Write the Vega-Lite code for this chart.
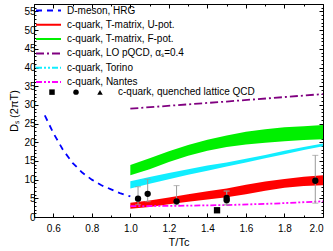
{
  "$schema": "https://vega.github.io/schema/vega-lite/v6.json",
  "width": 289,
  "height": 213,
  "autosize": "none",
  "padding": {"left": 34, "top": 4, "right": 10, "bottom": 34},
  "config": {
    "font": "Liberation Sans",
    "view": {"stroke": "black", "strokeWidth": 1},
    "axis": {"domain": false, "grid": false, "tickColor": "black", "labelColor": "black", "labelFontSize": 10, "titleFontSize": 11, "titleFontWeight": "normal", "titleColor": "black"}
  },
  "datasets": {
    "bands": [
      {"series": "c-quark, T-matrix, F-pot.", "T": 1.0, "lo": 11.2, "hi": 13.9},
      {"series": "c-quark, T-matrix, F-pot.", "T": 1.1, "lo": 12.8, "hi": 15.7},
      {"series": "c-quark, T-matrix, F-pot.", "T": 1.2, "lo": 14.7, "hi": 17.6},
      {"series": "c-quark, T-matrix, F-pot.", "T": 1.3, "lo": 16.4, "hi": 19.3},
      {"series": "c-quark, T-matrix, F-pot.", "T": 1.4, "lo": 17.7, "hi": 20.7},
      {"series": "c-quark, T-matrix, F-pot.", "T": 1.5, "lo": 18.7, "hi": 21.8},
      {"series": "c-quark, T-matrix, F-pot.", "T": 1.6, "lo": 19.4, "hi": 22.8},
      {"series": "c-quark, T-matrix, F-pot.", "T": 1.7, "lo": 19.9, "hi": 23.5},
      {"series": "c-quark, T-matrix, F-pot.", "T": 1.8, "lo": 20.3, "hi": 24.0},
      {"series": "c-quark, T-matrix, F-pot.", "T": 1.9, "lo": 20.6, "hi": 24.3},
      {"series": "c-quark, T-matrix, F-pot.", "T": 2.0, "lo": 20.8, "hi": 24.6},
      {"series": "c-quark, Torino", "T": 1.0, "lo": 7.6, "hi": 9.6},
      {"series": "c-quark, Torino", "T": 1.1, "lo": 8.9, "hi": 10.7},
      {"series": "c-quark, Torino", "T": 1.2, "lo": 10.1, "hi": 11.8},
      {"series": "c-quark, Torino", "T": 1.3, "lo": 11.3, "hi": 12.8},
      {"series": "c-quark, Torino", "T": 1.4, "lo": 12.4, "hi": 13.8},
      {"series": "c-quark, Torino", "T": 1.5, "lo": 13.5, "hi": 14.6},
      {"series": "c-quark, Torino", "T": 1.6, "lo": 14.6, "hi": 15.6},
      {"series": "c-quark, Torino", "T": 1.7, "lo": 15.7, "hi": 16.6},
      {"series": "c-quark, Torino", "T": 1.8, "lo": 16.8, "hi": 17.7},
      {"series": "c-quark, Torino", "T": 1.9, "lo": 17.9, "hi": 18.7},
      {"series": "c-quark, Torino", "T": 2.0, "lo": 18.9, "hi": 19.7},
      {"series": "c-quark, T-matrix, U-pot.", "T": 1.0, "lo": 2.2, "hi": 3.8},
      {"series": "c-quark, T-matrix, U-pot.", "T": 1.1, "lo": 2.7, "hi": 4.4},
      {"series": "c-quark, T-matrix, U-pot.", "T": 1.2, "lo": 3.4, "hi": 5.2},
      {"series": "c-quark, T-matrix, U-pot.", "T": 1.3, "lo": 4.1, "hi": 6.1},
      {"series": "c-quark, T-matrix, U-pot.", "T": 1.4, "lo": 4.7, "hi": 6.9},
      {"series": "c-quark, T-matrix, U-pot.", "T": 1.5, "lo": 5.3, "hi": 7.6},
      {"series": "c-quark, T-matrix, U-pot.", "T": 1.6, "lo": 6.1, "hi": 8.6},
      {"series": "c-quark, T-matrix, U-pot.", "T": 1.7, "lo": 7.0, "hi": 9.5},
      {"series": "c-quark, T-matrix, U-pot.", "T": 1.8, "lo": 7.8, "hi": 10.2},
      {"series": "c-quark, T-matrix, U-pot.", "T": 1.9, "lo": 8.3, "hi": 10.8},
      {"series": "c-quark, T-matrix, U-pot.", "T": 2.0, "lo": 8.5, "hi": 11.2}
    ],
    "lines": [
      {"series": "D-meson, HRG", "T": 0.556, "D": 27.2},
      {"series": "D-meson, HRG", "T": 0.6, "D": 22.5},
      {"series": "D-meson, HRG", "T": 0.65, "D": 18.0},
      {"series": "D-meson, HRG", "T": 0.7, "D": 14.5},
      {"series": "D-meson, HRG", "T": 0.75, "D": 11.9},
      {"series": "D-meson, HRG", "T": 0.8, "D": 10.0},
      {"series": "D-meson, HRG", "T": 0.85, "D": 8.5},
      {"series": "D-meson, HRG", "T": 0.9, "D": 7.4},
      {"series": "D-meson, HRG", "T": 0.95, "D": 6.3},
      {"series": "D-meson, HRG", "T": 1.0, "D": 5.5},
      {"series": "c-quark, LO pQCD, αₛ=0.4", "T": 1.0, "D": 29.0},
      {"series": "c-quark, LO pQCD, αₛ=0.4", "T": 1.5, "D": 30.9},
      {"series": "c-quark, LO pQCD, αₛ=0.4", "T": 2.0, "D": 32.9},
      {"series": "c-quark, Nantes", "T": 1.0, "D": 2.9},
      {"series": "c-quark, Nantes", "T": 1.25, "D": 3.0},
      {"series": "c-quark, Nantes", "T": 1.5, "D": 3.2},
      {"series": "c-quark, Nantes", "T": 1.75, "D": 3.6},
      {"series": "c-quark, Nantes", "T": 2.0, "D": 4.2}
    ],
    "lattice": [
      {"T": 1.04, "D": 4.9, "lo": 3.3, "hi": 8.1, "marker": "circle"},
      {"T": 1.09, "D": 6.2, "lo": 4.1, "hi": 10.1, "marker": "circle"},
      {"T": 1.24, "D": 4.2, "lo": 3.3, "hi": 8.4, "marker": "circle"},
      {"T": 1.45, "D": 1.8, "lo": 1.4, "hi": 2.3, "marker": "square"},
      {"T": 1.5, "D": 4.5, "lo": 3.2, "hi": 6.9, "marker": "circle"},
      {"T": 1.5, "D": 5.1, "lo": 3.4, "hi": 7.0, "marker": "circle"},
      {"T": 1.96, "D": 9.7, "lo": 3.7, "hi": 16.5, "marker": "circle"}
    ]
  },
  "resolve": {"axis": {"x": "independent", "y": "independent"}},
  "layer": [
    {
      "data": {"name": "bands"},
      "mark": {"type": "area", "opacity": 1},
      "encoding": {
        "x": {"field": "T", "type": "quantitative", "scale": {"domain": [0.5, 2.0], "nice": false, "zero": false},
          "axis": {"orient": "bottom", "title": "T/Tc", "values": [0.5,0.6,0.7,0.8,0.9,1.0,1.1,1.2,1.3,1.4,1.5,1.6,1.7,1.8,1.9,2.0], "format": ".1f",
            "tickSize": {"condition": {"test": "round(datum.value*10) % 2 == 0", "value": -4}, "value": -2},
            "labelExpr": "round(datum.value*10) % 2 == 0 ? datum.label : ''", "labelPadding": 10, "titlePadding": 3}},
        "y": {"field": "lo", "type": "quantitative", "scale": {"domain": [0, 57], "nice": false, "zero": false},
          "axis": {"orient": "left", "title": "Dₛ (2πT)", "values": [0,1,2,3,4,5,6,7,8,9,10,11,12,13,14,15,16,17,18,19,20,21,22,23,24,25,26,27,28,29,30,31,32,33,34,35,36,37,38,39,40,41,42,43,44,45,46,47,48,49,50,51,52,53,54,55,56,57],
            "tickSize": {"condition": {"test": "datum.value % 5 == 0", "value": -4}, "value": -2},
            "labelExpr": "datum.value % 5 == 0 ? datum.label : ''", "labelPadding": 3, "titlePadding": 4}},
        "y2": {"field": "hi"},
        "detail": {"field": "series"},
        "fill": {"field": "series", "type": "nominal", "legend": null,
          "scale": {"domain": ["c-quark, T-matrix, U-pot.", "c-quark, T-matrix, F-pot.", "c-quark, Torino"],
            "range": ["#ff0000", "#00f000", "#11eeff"]}}
      }
    },
    {
      "data": {"name": "lines"},
      "mark": {"type": "line", "strokeWidth": 1.8},
      "encoding": {
        "x": {"field": "T", "type": "quantitative", "axis": {"orient": "top", "title": null, "labels": false, "values": [0.5,0.6,0.7,0.8,0.9,1.0,1.1,1.2,1.3,1.4,1.5,1.6,1.7,1.8,1.9,2.0],
            "tickSize": {"condition": {"test": "round(datum.value*10) % 2 == 0", "value": -4}, "value": -2}}},
        "y": {"field": "D", "type": "quantitative", "axis": {"orient": "right", "title": null, "labels": false, "values": [0,1,2,3,4,5,6,7,8,9,10,11,12,13,14,15,16,17,18,19,20,21,22,23,24,25,26,27,28,29,30,31,32,33,34,35,36,37,38,39,40,41,42,43,44,45,46,47,48,49,50,51,52,53,54,55,56,57],
            "tickSize": {"condition": {"test": "datum.value % 5 == 0", "value": -4}, "value": -2}}},
        "color": {"field": "series", "type": "nominal",
          "scale": {"domain": ["D-meson, HRG", "c-quark, T-matrix, U-pot.", "c-quark, T-matrix, F-pot.", "c-quark, LO pQCD, αₛ=0.4", "c-quark, Torino", "c-quark, Nantes"],
            "range": ["#0000ff", "#ff0000", "#00f000", "#800080", "#11eeff", "#ff00ff"]},
          "legend": {"title": null, "orient": "top-left", "offset": 1, "padding": 0, "symbolType": "stroke", "symbolSize": 625, "symbolStrokeWidth": 2, "clipHeight": 11, "rowPadding": 3.3, "labelFontSize": 10, "labelColor": "black", "labelOffset": 5, "labelLimit": 300}},
        "strokeDash": {"field": "series", "type": "nominal",
          "scale": {"domain": ["D-meson, HRG", "c-quark, T-matrix, U-pot.", "c-quark, T-matrix, F-pot.", "c-quark, LO pQCD, αₛ=0.4", "c-quark, Torino", "c-quark, Nantes"],
            "range": [[6, 5], [1, 0], [1, 0], [8, 3, 2, 3], [6, 2, 2, 2, 2, 2], [6, 2, 2, 2, 2, 2]]},
          "legend": {"title": null, "orient": "top-left", "offset": 1, "padding": 0, "symbolType": "stroke", "symbolSize": 625, "symbolStrokeWidth": 2, "clipHeight": 11, "rowPadding": 3.3, "labelFontSize": 10, "labelColor": "black", "labelOffset": 5, "labelLimit": 300}}
      }
    },
    {
      "data": {"name": "lattice"},
      "mark": {"type": "rule", "color": "#999999", "strokeWidth": 1},
      "encoding": {
        "x": {"field": "T", "type": "quantitative", "axis": null},
        "y": {"field": "lo", "type": "quantitative", "axis": null},
        "y2": {"field": "hi"}
      }
    },
    {
      "data": {"name": "lattice"},
      "mark": {"type": "tick", "color": "#999999", "orient": "horizontal", "size": 6, "thickness": 1},
      "encoding": {
        "x": {"field": "T", "type": "quantitative", "axis": null},
        "y": {"field": "hi", "type": "quantitative", "axis": null}
      }
    },
    {
      "data": {"name": "lattice"},
      "mark": {"type": "tick", "color": "#999999", "orient": "horizontal", "size": 6, "thickness": 1},
      "encoding": {
        "x": {"field": "T", "type": "quantitative", "axis": null},
        "y": {"field": "lo", "type": "quantitative", "axis": null}
      }
    },
    {
      "data": {"name": "lattice"},
      "mark": {"type": "point", "filled": true, "color": "black", "opacity": 1, "size": 40},
      "encoding": {
        "x": {"field": "T", "type": "quantitative", "axis": null},
        "y": {"field": "D", "type": "quantitative", "axis": null},
        "shape": {"field": "marker", "type": "nominal",
          "scale": {"domain": ["square", "circle", "triangle"], "range": ["square", "circle", "triangle-up"]},
          "legend": {"title": null, "orient": "none", "legendX": 13, "legendY": 83, "direction": "horizontal", "padding": 0, "symbolSize": 30, "symbolFillColor": "black", "symbolStrokeColor": "black", "labelOffset": 13, "columnPadding": 0, "labelFontSize": 10, "labelColor": "black", "labelLimit": 300,
            "labelExpr": "datum.label == 'triangle' ? 'c-quark, quenched lattice QCD' : ''"}}
      }
    }
  ]
}
